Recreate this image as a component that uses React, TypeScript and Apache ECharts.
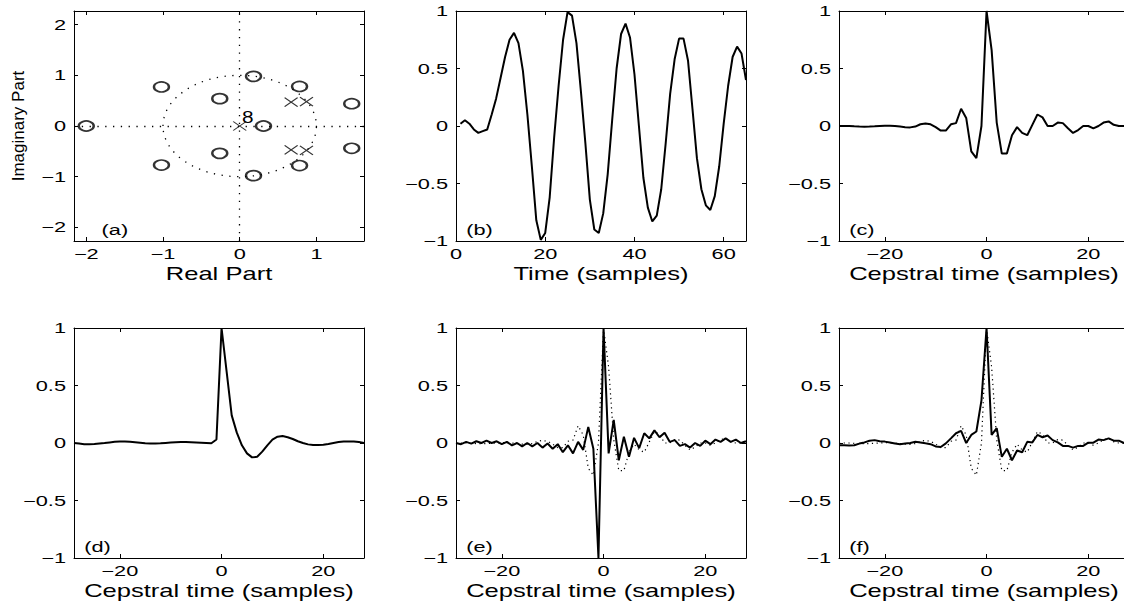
import React, { useEffect, useRef } from "react";
import * as echarts from "echarts";

// ---------- (a) pole-zero plot ----------
const zerosRe = [-2.0, -1.02, -1.02, -0.26, -0.26, 0.18, 0.18, 0.31, 0.78, 0.78, 1.46, 1.46];
const zerosIm = [0, 0.77, -0.77, 0.54, -0.54, 0.98, -0.98, 0, 0.78, -0.78, 0.44, -0.44];
const polesRe = [0, 0.67, 0.67, 0.87, 0.87];
const polesIm = [0, 0.47, -0.47, 0.48, -0.48];
const unitCircle = [0, 0, 1];
const originPoleCount = "8";
const originPoleLabelAt = [0.03, 0.17];

// ---------- (b) time signal ----------
const timeIndex = [
  1, 2, 3, 4, 5, 6, 7, 8, 9, 10, 11, 12, 13, 14, 15, 16, 17, 18, 19, 20, 21, 22, 23, 24, 25, 26, 27, 28, 29, 30,
  31, 32, 33, 34, 35, 36, 37, 38, 39, 40, 41, 42, 43, 44, 45, 46, 47, 48, 49, 50, 51, 52, 53, 54, 55, 56, 57, 58,
  59, 60, 61, 62, 63, 64, 65,
];
const signal = [
  0.02, 0.05, 0.02, -0.03, -0.06, -0.045, -0.03, 0.1, 0.24, 0.42, 0.6, 0.75, 0.81, 0.72, 0.48, 0.1, -0.35, -0.82,
  -0.99, -0.93, -0.62, -0.1, 0.35, 0.75, 0.99, 0.96, 0.72, 0.3, -0.15, -0.64, -0.9, -0.93, -0.76, -0.42, 0.05, 0.5,
  0.8, 0.89, 0.77, 0.45, 0.0, -0.45, -0.71, -0.83, -0.78, -0.55, -0.15, 0.28, 0.58, 0.76, 0.76, 0.57, 0.15, -0.28,
  -0.55, -0.69, -0.73, -0.61, -0.35, 0.02, 0.35, 0.6, 0.69, 0.63, 0.4,
];

// ---------- cepstra ----------
const quefrency = [
  -29, -28, -27, -26, -25, -24, -23, -22, -21, -20, -19, -18, -17, -16, -15, -14, -13, -12, -11, -10, -9, -8, -7,
  -6, -5, -4, -3, -2, -1, 0, 1, 2, 3, 4, 5, 6, 7, 8, 9, 10, 11, 12, 13, 14, 15, 16, 17, 18, 19, 20, 21, 22, 23, 24,
  25, 26, 27, 28,
];
// (c) true complex cepstrum (also dotted in e, f)
const trueCepstrum = [
  0, 0, 0, -0.003, -0.005, -0.006, -0.005, -0.003, 0.0, 0.003, 0.002, 0.0, -0.005, -0.01, -0.012, -0.005, 0.015,
  0.022, 0.015, -0.01, -0.04, -0.04, 0.015, 0.025, 0.15, 0.07, -0.22, -0.28, 0.0, 1.0, 0.66, 0.03, -0.24, -0.24,
  -0.08, -0.01, -0.06, -0.08, 0.01, 0.1, 0.075, 0.0, 0.0, 0.03, 0.025, -0.02, -0.06, -0.035, 0.0, 0.0, -0.02, 0.0,
  0.03, 0.04, 0.01, 0.0, 0.0, 0.0,
];
// (d) minimum-phase cepstrum
const minPhaseCepstrum = [
  0, -0.005, -0.01, -0.01, -0.008, -0.004, 0.0, 0.005, 0.01, 0.012, 0.012, 0.01, 0.006, 0.002, -0.002, -0.004,
  -0.004, -0.002, 0.001, 0.004, 0.007, 0.008, 0.008, 0.006, 0.004, 0.002, 0.0, -0.002, 0.03, 1.0, 0.62, 0.24, 0.09,
  -0.02, -0.09, -0.125, -0.12, -0.075, -0.02, 0.03, 0.055, 0.06, 0.05, 0.035, 0.015, 0.0, -0.012, -0.018, -0.018,
  -0.015, -0.008, 0.0, 0.008, 0.012, 0.014, 0.012, 0.008, 0.0,
];
// (e) estimate
const estimateE = [
  0.0, -0.01, 0.01, -0.005, 0.015, 0.0, 0.02, 0.0, 0.015, -0.01, 0.01, -0.02, 0.0, -0.03, 0.0, -0.03, 0.0, -0.04,
  -0.005, -0.05, -0.01, -0.08, -0.02, -0.09, 0.01, -0.06, 0.14, -0.05, -1.0, 1.0, -0.09, 0.2, -0.15, 0.055, -0.12,
  0.045, -0.045, 0.085, 0.04, 0.11, 0.05, 0.09, 0.01, 0.025, -0.025, -0.01, -0.04, 0.0, -0.025, 0.02, -0.01, 0.03,
  0.01, 0.04, 0.01, 0.03, 0.0, 0.015,
];
// (f) estimate
const estimateF = [
  -0.02, -0.02, -0.022, -0.02, -0.005, 0.005, 0.02, 0.025, 0.015, 0.012, 0.005, -0.005, -0.01, -0.005, 0.0, 0.01,
  0.005, -0.003, -0.01, -0.03, -0.035, -0.003, 0.04, 0.085, 0.105, 0.0, 0.07, 0.1, 0.37, 1.0, 0.07, 0.13, -0.12,
  -0.05, -0.15, -0.065, -0.08, 0.01, 0.005, 0.07, 0.05, 0.065, 0.025, 0.005, -0.025, -0.025, -0.04, -0.025, -0.025,
  0.003, 0.003, 0.03, 0.025, 0.04, 0.02, 0.02, 0.0, -0.005,
];

// ---------- ticks & labels ----------
const reTicks = [-2, -1, 0, 1];
const reTickLabels = ["−2", "−1", "0", "1"];
const imTicks = [-2, -1, 0, 1, 2];
const imTickLabels = ["−2", "−1", "0", "1", "2"];
const timeTicks = [0, 20, 40, 60];
const timeTickLabels = ["0", "20", "40", "60"];
const cepTicks = [-20, 0, 20];
const cepTickLabels = ["−20", "0", "20"];
const ampTicks = [-1, -0.5, 0, 0.5, 1];
const ampTickLabels = ["−1", "−0.5", "0", "0.5", "1"];

const FONT = "'Liberation Sans', Arial, Helvetica, sans-serif";
const COL_LEFT = [74, 456, 839];
const ROW_TOP = [11, 328];
const W = 290;
const H = 230;
const TICK_SX = 1.5;
const TITLE_SX = 1.42;

type Panel = {
  row: number;
  col: number;
  xMin: number;
  xMax: number;
  yMin: number;
  yMax: number;
  xTicks: number[];
  xTickLabels: string[];
  yTicks: number[];
  yTickLabels: string[];
  xTitle: string;
  tag: string;
  tagAt: number[];
};

const panels: Panel[] = [
  { row: 0, col: 0, xMin: -2.16, xMax: 1.62, yMin: -2.27, yMax: 2.27, xTicks: reTicks, xTickLabels: reTickLabels, yTicks: imTicks, yTickLabels: imTickLabels, xTitle: "Real Part", tag: "(a)", tagAt: [-1.8, -2.05] },
  { row: 0, col: 1, xMin: 0, xMax: 65, yMin: -1, yMax: 1, xTicks: timeTicks, xTickLabels: timeTickLabels, yTicks: ampTicks, yTickLabels: ampTickLabels, xTitle: "Time (samples)", tag: "(b)", tagAt: [2.3, -0.9] },
  { row: 0, col: 2, xMin: -29, xMax: 28, yMin: -1, yMax: 1, xTicks: cepTicks, xTickLabels: cepTickLabels, yTicks: ampTicks, yTickLabels: ampTickLabels, xTitle: "Cepstral time (samples)", tag: "(c)", tagAt: [-27, -0.9] },
  { row: 1, col: 0, xMin: -29, xMax: 28, yMin: -1, yMax: 1, xTicks: cepTicks, xTickLabels: cepTickLabels, yTicks: ampTicks, yTickLabels: ampTickLabels, xTitle: "Cepstral time (samples)", tag: "(d)", tagAt: [-27, -0.9] },
  { row: 1, col: 1, xMin: -29, xMax: 28, yMin: -1, yMax: 1, xTicks: cepTicks, xTickLabels: cepTickLabels, yTicks: ampTicks, yTickLabels: ampTickLabels, xTitle: "Cepstral time (samples)", tag: "(e)", tagAt: [-27, -0.9] },
  { row: 1, col: 2, xMin: -29, xMax: 28, yMin: -1, yMax: 1, xTicks: cepTicks, xTickLabels: cepTickLabels, yTicks: ampTicks, yTickLabels: ampTickLabels, xTitle: "Cepstral time (samples)", tag: "(f)", tagAt: [-27, -0.9] },
];

const pair = (xs: number[], ys: number[]) => xs.map((x, i) => [x, ys[i]]);

export default function App() {
  const ref = useRef<HTMLDivElement>(null);
  useEffect(() => {
    if (!ref.current) return;
    const chart = echarts.init(ref.current, null, { renderer: "svg" });
    const axisLine = { onZero: false, lineStyle: { color: "#000", width: 1 } };
    const xAxis: any[] = [];
    const yAxis: any[] = [];
    panels.forEach((p, i) => {
      ["bottom", "top"].forEach((pos) =>
        xAxis.push({
          type: "value", gridIndex: i, position: pos, min: p.xMin, max: p.xMax,
          splitLine: { show: false }, axisLine,
          axisLabel: { show: false, customValues: p.xTicks },
          axisTick: { inside: true, length: 4, customValues: p.xTicks, lineStyle: { color: "#000", width: 1 } },
        })
      );
      ["left", "right"].forEach((pos) =>
        yAxis.push({
          type: "value", gridIndex: i, position: pos, min: p.yMin, max: p.yMax,
          splitLine: { show: false }, axisLine,
          axisLabel: { show: false, customValues: p.yTicks },
          axisTick: { inside: true, length: 4, customValues: p.yTicks, lineStyle: { color: "#000", width: 1 } },
        })
      );
    });
    const solid = (idx: number, xs: number[], ys: number[]) => ({
      type: "line", xAxisIndex: 2 * idx, yAxisIndex: 2 * idx, data: pair(xs, ys),
      symbol: "none", showSymbol: false, silent: true, z: 3,
      lineStyle: { color: "#000", width: 2 },
    });
    const dotted = (idx: number, xs: number[], ys: number[]) => ({
      type: "line", xAxisIndex: 2 * idx, yAxisIndex: 2 * idx, data: pair(xs, ys),
      symbol: "none", showSymbol: false, silent: true, z: 2,
      lineStyle: { color: "#000", width: 1.2, type: [1.2, 3.5] },
    });
    const option: any = {
      animation: false,
      backgroundColor: "#fff",
      grid: panels.map((p) => ({ left: COL_LEFT[p.col], top: ROW_TOP[p.row], width: W, height: H })),
      xAxis,
      yAxis,
      series: [
        {
          type: "custom", xAxisIndex: 0, yAxisIndex: 0, data: [unitCircle], silent: true, z: 1,
          renderItem: (_params: any, api: any) => {
            const c = api.coord([api.value(0), api.value(1)]);
            const s = api.size([api.value(2), api.value(2)]);
            return {
              type: "ellipse",
              shape: { cx: c[0], cy: c[1], rx: s[0], ry: s[1] },
              style: { fill: "none", stroke: "#000", lineWidth: 1.3, lineDash: [1.3, 6.5] },
            };
          },
        },
        {
          type: "scatter", name: "zeros", xAxisIndex: 0, yAxisIndex: 0, data: pair(zerosRe, zerosIm),
          symbol: "circle", symbolSize: [15, 10], silent: true, z: 4,
          itemStyle: { color: "rgba(0,0,0,0)", borderColor: "#000", borderWidth: 2 },
          markLine: {
            silent: true, symbol: ["none", "none"], label: { show: false }, animation: false,
            lineStyle: { color: "#000", width: 1.3, type: [1.3, 6.5] },
            data: [{ xAxis: 0 }, { yAxis: 0 }],
          },
        },
        {
          type: "scatter", name: "poles", xAxisIndex: 0, yAxisIndex: 0, data: pair(polesRe, polesIm),
          symbol: "path://M0,0L10,10M10,0L0,10", symbolSize: [13, 9], silent: true, z: 4,
          itemStyle: { color: "rgba(0,0,0,0)", borderColor: "#000", borderWidth: 1.1 },
        },
        solid(1, timeIndex, signal),
        solid(2, quefrency, trueCepstrum),
        solid(3, quefrency, minPhaseCepstrum),
        dotted(4, quefrency, trueCepstrum),
        solid(4, quefrency, estimateE),
        dotted(5, quefrency, trueCepstrum),
        solid(5, quefrency, estimateF),
      ],
    };
    chart.setOption(option);

    const texts: any[] = [];
    const txt = (x: number, y: number, text: string, size: number, sx: number, align: string, valign: string, rot = 0) => ({
      type: "text", x, y, scaleX: sx, rotation: rot, silent: true, z: 10,
      style: {
        text, fill: "#000", fontSize: size, fontFamily: FONT,
        align, verticalAlign: valign, textAlign: align, textVerticalAlign: valign,
      },
    });
    panels.forEach((p, i) => {
      const xi = { xAxisIndex: 2 * i };
      const yi = { yAxisIndex: 2 * i };
      const left = chart.convertToPixel(xi, p.xMin) as number;
      const right = chart.convertToPixel(xi, p.xMax) as number;
      const bottom = chart.convertToPixel(yi, p.yMin) as number;
      const top = chart.convertToPixel(yi, p.yMax) as number;
      p.xTicks.forEach((v, k) => {
        texts.push(txt(chart.convertToPixel(xi, v) as number, bottom + 13, p.xTickLabels[k], 14.5, TICK_SX, "center", "middle"));
      });
      p.yTicks.forEach((v, k) => {
        texts.push(txt(left - 8, chart.convertToPixel(yi, v) as number, p.yTickLabels[k], 14.5, TICK_SX, "right", "middle"));
      });
      texts.push(txt((left + right) / 2, bottom + 33, p.xTitle, 18, TITLE_SX, "center", "middle"));
      texts.push(
        txt(chart.convertToPixel(xi, p.tagAt[0]) as number, chart.convertToPixel(yi, p.tagAt[1]) as number, p.tag, 14.5, TICK_SX, "left", "middle")
      );
      if (i === 0) {
        texts.push(txt(18.5, (top + bottom) / 2, "Imaginary Part", 17, 1, "center", "middle", Math.PI / 2));
        texts.push(
          txt(chart.convertToPixel(xi, originPoleLabelAt[0]) as number, chart.convertToPixel(yi, originPoleLabelAt[1]) as number, originPoleCount, 16, 1.3, "left", "middle")
        );
      }
    });
    chart.setOption({ graphic: texts });
    return () => chart.dispose();
  }, []);
  return (
    <div
      ref={ref}
      style={{ position: "fixed", left: 0, top: 0, width: 1140, height: 602, background: "#fff" }}
    />
  );
}
